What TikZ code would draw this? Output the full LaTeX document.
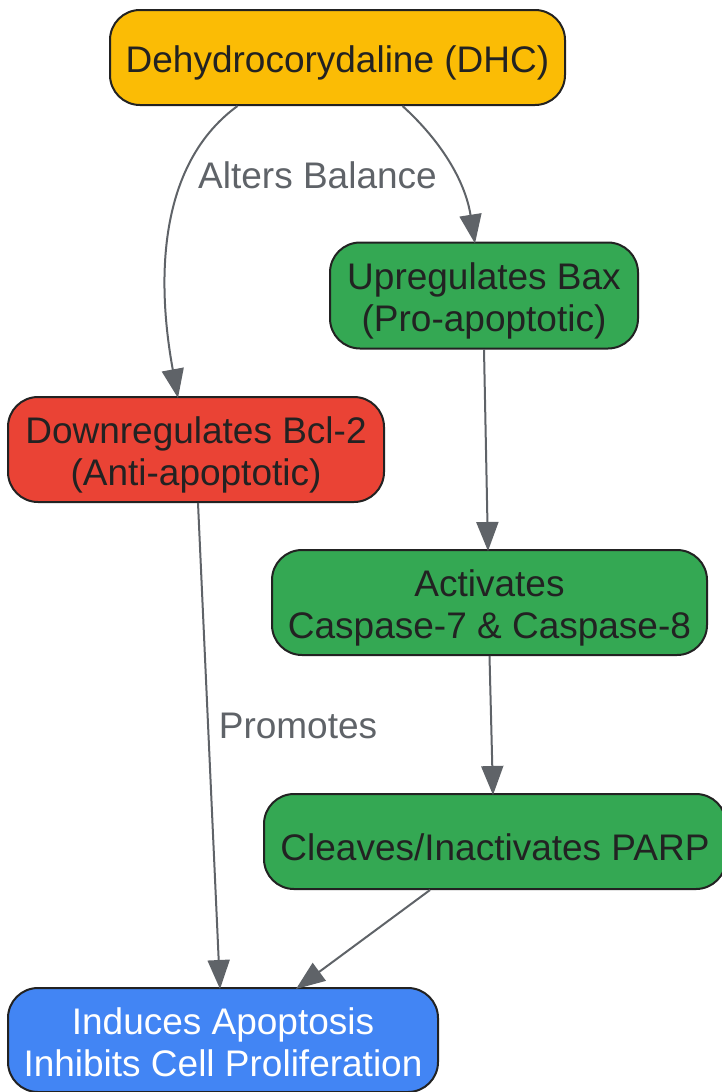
\documentclass[tikz,border=0pt]{standalone}
\usepackage{fontspec}
\setmainfont{Liberation Sans}
\usepackage{tikz}
\usetikzlibrary{arrows.meta,positioning,calc}
\definecolor{dhcyellow}{HTML}{FBBC05}
\definecolor{proapgreen}{HTML}{34A853}
\definecolor{antired}{HTML}{EA4335}
\definecolor{outblue}{HTML}{4285F4}
\definecolor{edgegray}{HTML}{5F6368}
\definecolor{borderdark}{HTML}{222222}
\newcommand{\lift}{\rule{0pt}{38pt}}
\newcommand{\sink}{\rule[-8pt]{0pt}{8pt}}

\begin{document}
\begin{tikzpicture}[
        x=1pt, y=-1pt,
        box/.style={rectangle, rounded corners=30pt, draw=borderdark, line width=2pt,
            fill=#1, text=borderdark, inner sep=0pt,
            align=center, font=\fontsize{37}{42}\selectfont},
        lbl/.style={text=edgegray, inner sep=0pt, anchor=base, font=\fontsize{37}{42}\selectfont},
        link/.style={draw=edgegray, line width=2pt, -{Triangle[length=29pt,width=22pt]}}
    ]
        \useasboundingbox (0,0) rectangle (721,1092);

        \node[box=dhcyellow, minimum width=455pt, minimum height=95pt] (dhc) at (337.5,57.5) {\lift Dehydrocorydaline (DHC)};
        \node[box=proapgreen, minimum width=308pt, minimum height=106pt] (bax) at (484,295.5) {\lift Upregulates Bax\\(Pro-apoptotic)};
        \node[box=antired, minimum width=376pt, minimum height=105pt] (bcl) at (196,449.5) {\lift Downregulates Bcl-2\\(Anti-apoptotic)};
        \node[box=proapgreen, minimum width=435pt, minimum height=105pt] (casp) at (489.5,602.5) {\lift Activates\\Caspase-7 \& Caspase-8};
        \node[box=proapgreen, minimum width=462pt, minimum height=95pt] (parp) at (495,841.5) {\lift Cleaves/Inactivates PARP};
        \node[box=outblue, text=white, minimum width=430pt, minimum height=104pt] (apop) at (223,1040) {\lift Induces Apoptosis\\Inhibits Cell Proliferation\sink};

        \node[lbl] (balance) at (317.5,188.5) {Alters Balance};
        \node[lbl] (promotes) at (298,738.5) {Promotes};

        % DHC splits into the two branches
        \draw[link] ([xshift=-100pt]dhc.south) .. controls (150,170) and (160,300) .. ([xshift=-18pt,yshift=-2pt]bcl.north);
        \draw[link] ([xshift=65pt]dhc.south) .. controls (440,140) and (465,180) .. ([xshift=-9pt,yshift=-2pt]bax.north);

        \draw[link] (bax.south) -- ([xshift=-1.5pt,yshift=-2pt]casp.north);
        \draw[link] (casp.south) -- ([xshift=-2pt,yshift=-2pt]parp.north);
        \draw[link] ([xshift=2pt]bcl.south) -- ([xshift=-3pt,yshift=-2pt]apop.north);
        \draw[link] ([xshift=-65pt]parp.south) -- ([xshift=73pt,yshift=-2pt]apop.north);
    \end{tikzpicture}
\end{document}
